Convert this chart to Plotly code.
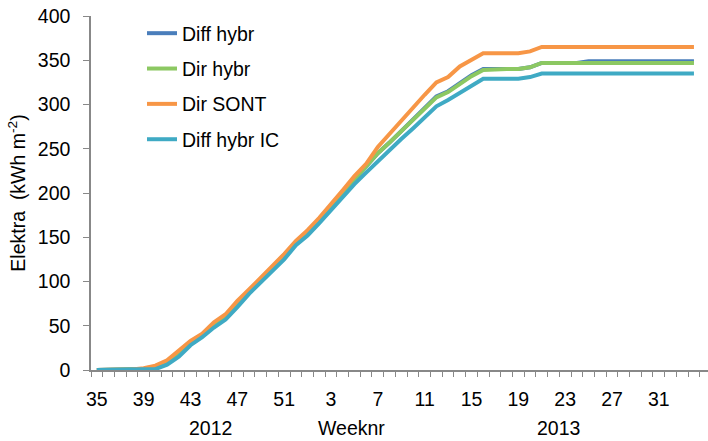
import plotly.graph_objects as go

# ---- data ----
weeks_2012 = list(range(35, 53))
weeks_2013 = list(range(1, 35))
week_labels = [str(w) for w in weeks_2012 + weeks_2013]
x_idx = list(range(len(week_labels)))

diff_hybr = [0, 0, 0, 0, 1, 3.5, 9, 19, 31, 39, 51, 60, 75, 89, 102, 116, 129, 144,
             156, 170, 185, 200, 215, 229, 245, 257, 270, 283, 296, 309, 315, 324, 333, 340,
             340, 340, 340, 342, 347, 347, 347, 347, 349, 349, 349, 349, 349, 349, 349, 349, 349, 349]
dir_hybr = [0, 0, 0, 0, 1, 3.5, 9, 19, 31, 39, 51, 60, 75, 89, 102, 116, 129, 144,
            156, 170, 185, 200, 215, 229, 245, 257, 270, 283, 296, 308, 314, 323, 332, 339,
            340, 340, 340, 342, 347, 347, 347, 347, 347, 347, 347, 347, 347, 347, 347, 347, 347, 347]
dir_sont = [0, 0, 0, 0.5, 2, 5, 11, 22, 33, 41, 54, 63, 78, 91, 104, 118, 131, 146,
            158, 172, 187, 203, 219, 233, 252, 267, 281, 296, 311, 325, 331, 343, 351, 358,
            358, 358, 358, 360, 365, 365, 365, 365, 365, 365, 365, 365, 365, 365, 365, 365, 365, 365]
diff_hybr_ic = [0, 0, 0, 0, 0, 1, 6, 15, 28, 37, 48, 57, 71, 86, 99, 112, 125, 141,
                152, 166, 181, 196, 210, 223, 236, 249, 261, 273, 286, 298, 305, 313, 322, 329,
                329, 329, 329, 331, 335, 335, 335, 335, 335, 335, 335, 335, 335, 335, 335, 335, 335, 335]

series_names = ["Diff hybr", "Dir hybr", "Dir SONT", "Diff hybr IC"]
series_values = [diff_hybr, dir_hybr, dir_sont, diff_hybr_ic]
series_colors = ["#4A7EBB", "#8CC862", "#F79646", "#3FAAC4"]

year_labels = ["2012", "Weeknr", "2013"]

FONT = "Liberation Sans, Arial, sans-serif"
FS = 19.5

fig = go.Figure()
for name, vals, col in zip(series_names, series_values, series_colors):
    fig.add_trace(go.Scatter(
        x=x_idx[:len(vals)], y=vals, name=name, mode="lines",
        line=dict(color=col, width=4), legendgroup=name,
    ))

fig.update_layout(
    width=708, height=441,
    margin=dict(l=91, r=0, t=16, b=71),
    plot_bgcolor="white", paper_bgcolor="white",
    font=dict(family=FONT, size=FS, color="black"),
    showlegend=True,
    legend=dict(x=(142 - 91) / 617, y=(370 - 14) / 354, xanchor="left", yanchor="top",
                bgcolor="rgba(0,0,0,0)", tracegroupgap=7,
                font=dict(family=FONT, size=FS, color="black")),
)

fig.update_xaxes(
    range=[-0.5, 52.2],
    tickmode="array", tickvals=x_idx[::4], ticktext=week_labels[::4],
    ticks="", ticklabelstandoff=11,
    showline=True, linecolor="#888888", linewidth=1.5,
    showgrid=False, zeroline=False,
    minor=dict(ticks="outside", tick0=-0.5, dtick=1, ticklen=5, tickcolor="#888888", tickwidth=1, showgrid=False),
    tickfont=dict(family=FONT, size=FS, color="black"),
)
fig.update_yaxes(
    range=[0, 400], dtick=50, tick0=0,
    ticks="outside", ticklen=6, tickcolor="#888888", tickwidth=1,
    ticklabelstandoff=9,
    showline=True, linecolor="#888888", linewidth=1.5,
    showgrid=False, zeroline=False,
    tickfont=dict(family=FONT, size=FS, color="black"),
    title=dict(text="Elektra  (kWh m<sup>-2</sup>)", standoff=7,
               font=dict(family=FONT, size=FS, color="black")),
)

for txt, px in zip(year_labels, [210, 351, 558]):
    fig.add_annotation(text=txt, xref="paper", yref="paper",
                       x=(px - 91) / 617, y=(370 - 428) / 354,
                       xanchor="center", yanchor="middle", showarrow=False,
                       font=dict(family=FONT, size=FS, color="black"))

fig.write_html("out.html", config={"displayModeBar": False},
               post_script="document.body.style.margin='0';")
